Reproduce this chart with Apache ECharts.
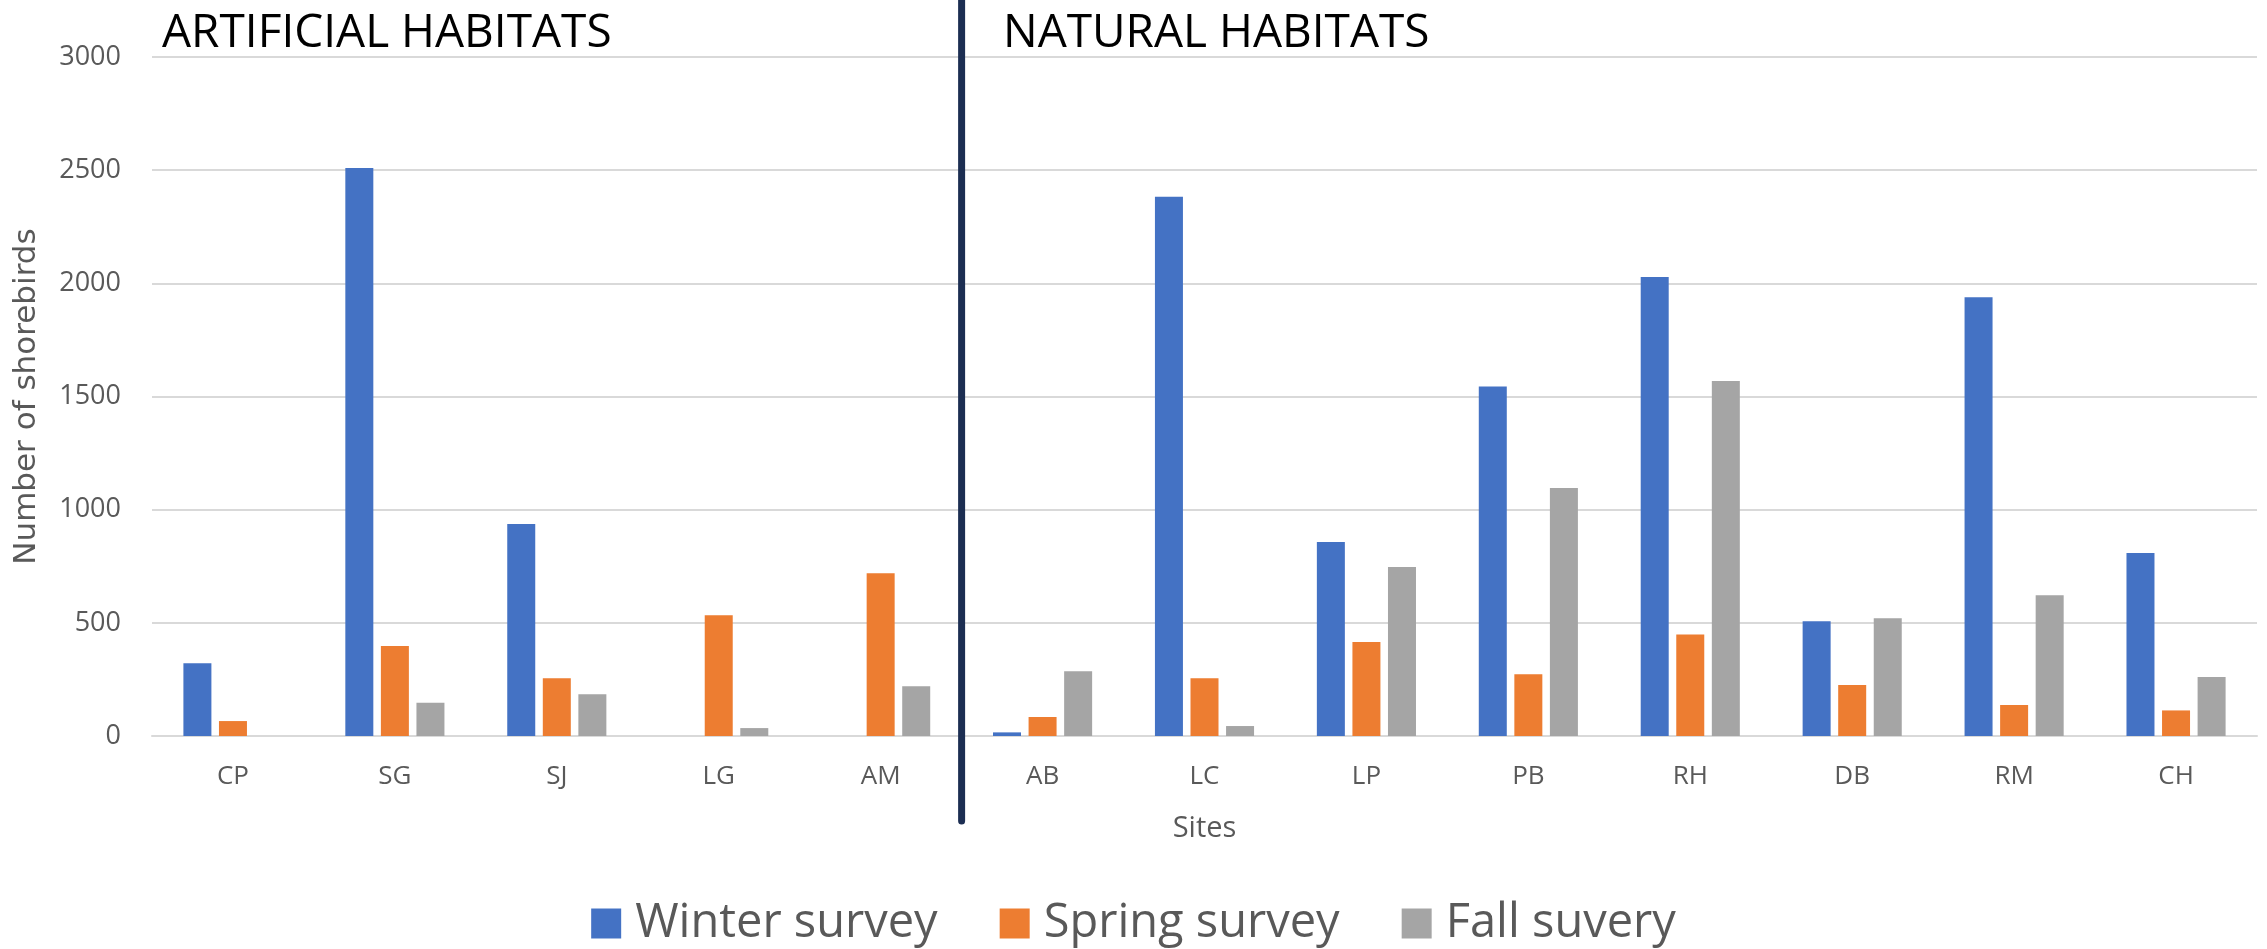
<!DOCTYPE html>
<html>
<head>
<meta charset="utf-8">
<script src="https://cdn.jsdelivr.net/npm/echarts@6/dist/echarts.min.js"></script>
<style>
html,body{margin:0;padding:0;background:#fff;}
#chart{width:2267px;height:949px;}
</style>
</head>
<body>
<div id="chart"></div>
<script>
const sites = ['CP','SG','SJ','LG','AM','AB','LC','LP','PB','RH','DB','RM','CH'];
const winter = [321, 2510, 937, 0, 0, 16, 2382, 857, 1544, 2028, 507, 1939, 809];
const spring = [66, 398, 255, 533, 719, 84, 255, 415, 273, 449, 225, 137, 113];
const fall   = [0, 147, 184, 35, 220, 286, 44, 747, 1096, 1569, 520, 622, 261];
const seriesNames = ['Winter survey','Spring survey','Fall suvery'];
const yTicks = {min:0, max:3000, interval:500};
const groupTitles = ['ARTIFICIAL HABITATS','NATURAL HABITATS'];

const chart = echarts.init(document.getElementById('chart'));
const FONT = '"Open Sans", sans-serif';
const colors = ['#4472C4','#ED7D31','#A5A5A5'];
const vals = [winter, spring, fall];

const option = {
  animation:false,
  backgroundColor:'#fff',
  color: colors,
  grid:{left:152, right:10, top:57, bottom:213, containLabel:false},
  title:[
    {text:groupTitles[0], left:157, top:6, textStyle:{fontFamily:FONT, fontSize:46, fontWeight:500, color:'#000'}},
    {text:groupTitles[1], left:998, top:6, textStyle:{fontFamily:FONT, fontSize:46, fontWeight:500, color:'#000'}}
  ],
  legend:{
    data:seriesNames, top:895, left:'center',
    itemWidth:30, itemHeight:30, itemGap:62,
    icon:'rect',
    textStyle:{fontFamily:FONT, fontSize:47, color:'#595959', padding:[0,0,0,9]}
  },
  xAxis:{
    type:'category', data:sites,
    name:'Sites', nameLocation:'middle', nameGap:78,
    nameTextStyle:{fontFamily:FONT, fontSize:29, color:'#595959'},
    axisLine:{lineStyle:{color:'#d9d9d9', width:2}},
    axisTick:{show:false},
    axisLabel:{fontFamily:FONT, fontSize:26, color:'#595959', margin:28}
  },
  yAxis:{
    type:'value', min:yTicks.min, max:yTicks.max, interval:yTicks.interval,
    name:'Number of shorebirds', nameLocation:'middle', nameGap:110,
    nameTextStyle:{fontFamily:'"DejaVu Sans", sans-serif', fontSize:31, color:'#595959'},
    axisLine:{show:false}, axisTick:{show:false},
    axisLabel:{fontFamily:FONT, fontSize:27, color:'#595959', margin:31, formatter:(v)=>String(v)},
    splitLine:{lineStyle:{color:'#d9d9d9', width:2}}
  },
  series: seriesNames.map((n,i)=>({
    name:n, type:'bar', data:vals[i], barWidth:28, barGap:'27%'
  }))
};
chart.setOption(option);

// divider between AM and AB
const xa = chart.convertToPixel({xAxisIndex:0}, 'AM');
const xb = chart.convertToPixel({xAxisIndex:0}, 'AB');
const xd = (xa + xb) / 2;
const y0 = chart.convertToPixel({yAxisIndex:0}, 0);
chart.setOption({
  graphic:[{
    type:'line', z:100,
    shape:{x1:xd, y1:-10, x2:xd, y2:y0 + 85},
    style:{stroke:'#1C2E52', lineWidth:7, lineCap:'round'}
  }]
});
</script>
</body>
</html>
